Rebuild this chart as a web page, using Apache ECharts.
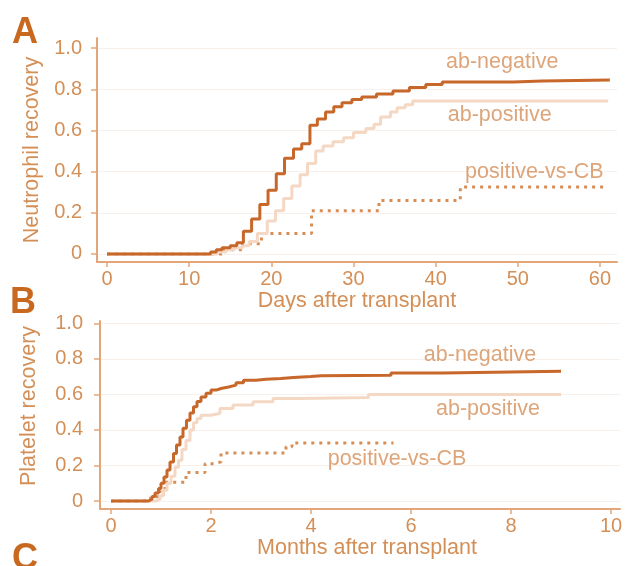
<!DOCTYPE html>
<html>
<head>
<meta charset="utf-8">
<script src="https://cdn.jsdelivr.net/npm/echarts@6/dist/echarts.min.js"></script>
<style>
html,body{margin:0;padding:0;background:#fff;}
#chart{width:642px;height:566px;}
</style>
</head>
<body>
<div id="chart"></div>
<script>
// ---------- Panel A: neutrophil recovery (days) ----------
const neutNegative = [[0,0],[12,0],[12.6,0.01],[13.3,0.02],[14,0.03],[15,0.04],[15.8,0.055],[16.6,0.11],[17.6,0.17],[18.6,0.24],[19.6,0.31],[20.6,0.39],[21.6,0.465],[22.7,0.51],[23.7,0.535],[24.7,0.625],[25.6,0.655],[26.6,0.69],[27.6,0.715],[28.6,0.735],[29.8,0.75],[31,0.763],[32.8,0.777],[34.8,0.792],[36.8,0.808],[38.8,0.823],[40.8,0.835],[49.5,0.84],[53,0.845],[61.2,0.845]];
const neutPositive = [[0,0],[12.5,0],[13.5,0.01],[14.5,0.02],[15.5,0.03],[16.5,0.04],[17.3,0.06],[18.3,0.1],[19.5,0.16],[20.5,0.21],[21.5,0.27],[22.5,0.33],[23.5,0.385],[24.4,0.44],[25.4,0.5],[26.3,0.525],[27.5,0.545],[28.8,0.565],[30,0.59],[31.5,0.61],[32.5,0.63],[33.3,0.665],[34.5,0.69],[35.3,0.71],[36.3,0.725],[37.2,0.743],[61,0.743]];
const neutPosVsCB = [[0,0],[14,0.02],[16.5,0.05],[18.8,0.1],[24.9,0.21],[33.1,0.26],[43,0.325],[60.8,0.325]];
const neutTicksX = [0,10,20,30,40,50,60];
const recTicksY = [0,0.2,0.4,0.6,0.8,1.0];

// ---------- Panel B: platelet recovery (months) ----------
const platNegative = [[0,0],[0.68,0],[0.75,0.01],[0.82,0.025],[0.88,0.045],[0.95,0.07],[1.0,0.1],[1.06,0.135],[1.12,0.175],[1.18,0.22],[1.25,0.268],[1.31,0.315],[1.38,0.36],[1.44,0.41],[1.51,0.455],[1.58,0.495],[1.65,0.53],[1.72,0.56],[1.8,0.585],[1.9,0.607],[2.0,0.624],[2.1,0.633],[2.2,0.642],[2.35,0.652],[2.5,0.665],[2.65,0.68],[2.9,0.685],[3.1,0.69],[3.4,0.695],[3.65,0.70],[4.0,0.705],[4.2,0.708],[5.6,0.72],[6.65,0.73],[9.0,0.73]];
const platPositive = [[0,0],[0.8,0],[0.9,0.01],[0.98,0.03],[1.05,0.06],[1.12,0.1],[1.2,0.14],[1.28,0.19],[1.35,0.23],[1.42,0.29],[1.5,0.34],[1.58,0.4],[1.65,0.44],[1.72,0.465],[1.8,0.483],[2.0,0.494],[2.18,0.52],[2.44,0.54],[2.84,0.558],[3.24,0.577],[3.78,0.583],[5.15,0.60],[9.0,0.60]];
const platPosVsCB = [[0,0],[0.78,0],[0.8,0.024],[0.98,0.06],[1.08,0.105],[1.5,0.16],[1.88,0.21],[2.08,0.22],[2.2,0.27],[3.5,0.305],[3.62,0.327],[5.65,0.327]];
const platTicksX = [0,2,4,6,8,10];

// ---------- Annotations (data coordinates) ----------
const labelsA = [['ab-negative',48.1,0.932],['ab-positive',47.8,0.675],['positive-vs-CB',52.0,0.398]];
const labelsB = [['ab-negative',7.38,0.82],['ab-positive',7.54,0.517],['positive-vs-CB',5.72,0.236]];

const TXT = '#d48f57';
const AX = '#e3a67a';
const DARK = '#c8672a';
const LIGHT = '#f4d8c4';
const DOT = '#d88d55';
const FONT = '"Liberation Sans", Arial, sans-serif';

function fmtY(v){ return Math.abs(v) < 1e-9 ? '0' : v.toFixed(1); }

function xAxisCfg(grid, min, max, ticks, name, pad){
  return {
    type:'value', gridIndex:grid, min:min, max:max,
    axisLine:{show:true, onZero:false, lineStyle:{color:AX, width:2}},
    axisTick:{show:true, customValues:ticks, length:5, lineStyle:{color:AX, width:1.5}},
    axisLabel:{customValues:ticks, color:TXT, fontSize:20, fontFamily:FONT, margin:7},
    splitLine:{show:false},
    name:name, nameLocation:'middle', nameGap:27,
    nameTextStyle:{color:TXT, fontSize:21.5, fontFamily:FONT, padding:pad}
  };
}
function yAxisCfg(grid, min, max, name, gap, margin, pad){
  return {
    type:'value', gridIndex:grid, min:min, max:max,
    axisLine:{show:true, onZero:false, lineStyle:{color:AX, width:2}},
    axisTick:{show:true, customValues:recTicksY, length:6, lineStyle:{color:AX, width:1.5}},
    axisLabel:{customValues:recTicksY, formatter:fmtY, color:TXT, fontSize:20, fontFamily:FONT, margin:margin},
    splitLine:{show:true, lineStyle:{color:'#f8f0ea', width:1}},
    name:name, nameLocation:'middle', nameGap:gap,
    nameTextStyle:{color:TXT, fontSize:21.5, fontFamily:FONT, padding:pad}
  };
}
function lineSeries(data, xi, color, dash, z){
  return {
    type:'line', xAxisIndex:xi, yAxisIndex:xi, data:data, step:'end',
    showSymbol:false, symbol:'none', silent:true, z:z,
    lineStyle:{color:color, width:3, type:dash ? [3,5] : 'solid', cap:'butt'}
  };
}
function labelSeries(labels, xi){
  return {
    type:'scatter', xAxisIndex:xi, yAxisIndex:xi, symbolSize:0, silent:true,
    data: labels.map(l => ({value:[l[1], l[2]], name:l[0]})),
    label:{show:true, position:'inside', formatter:p => p.name, color:TXT, fontSize:21.5, fontFamily:FONT, align:'center', verticalAlign:'middle'},
    itemStyle:{color:'rgba(0,0,0,0)'}
  };
}

const chart = echarts.init(document.getElementById('chart'), null, {renderer:'canvas'});
chart.setOption({
  backgroundColor:'#ffffff',
  animation:false,
  textStyle:{fontFamily:FONT},
  grid:[
    {left:97, right:25, top:38, bottom:304, outerBoundsMode:'none', containLabel:false},
    {left:100, right:22, top:321, bottom:57, outerBoundsMode:'none', containLabel:false}
  ],
  xAxis:[
    xAxisCfg(0, -1.217, 62.07, neutTicksX, 'Days after transplant', [0,0,0,0]),
    xAxisCfg(1, -0.22, 10.18, platTicksX, 'Months after transplant', [0,0,0,14])
  ],
  yAxis:[
    yAxisCfg(0, -0.039, 1.049, 'Neutrophil recovery', 54, 15, [0,0,0,0]),
    yAxisCfg(1, -0.045, 1.013, 'Platelet recovery', 60, 17, [0,0,0,18])
  ],
  graphic:[
    {type:'text', left:12, top:15, style:{text:'A', fill:'#c9691f', font:'bold 36px "Liberation Sans", Arial, sans-serif'}},
    {type:'text', left:10, top:285, style:{text:'B', fill:'#c9691f', font:'bold 36px "Liberation Sans", Arial, sans-serif'}},
    {type:'text', left:12, top:541, style:{text:'C', fill:'#c9691f', font:'bold 36px "Liberation Sans", Arial, sans-serif'}}
  ],
  series:[
    lineSeries(neutPosVsCB, 0, DOT, true, 2),
    lineSeries(neutPositive, 0, LIGHT, false, 3),
    lineSeries(neutNegative, 0, DARK, false, 4),
    labelSeries(labelsA, 0),
    lineSeries(platPosVsCB, 1, DOT, true, 2),
    lineSeries(platPositive, 1, LIGHT, false, 3),
    lineSeries(platNegative, 1, DARK, false, 4),
    labelSeries(labelsB, 1)
  ]
});
</script>
</body>
</html>
